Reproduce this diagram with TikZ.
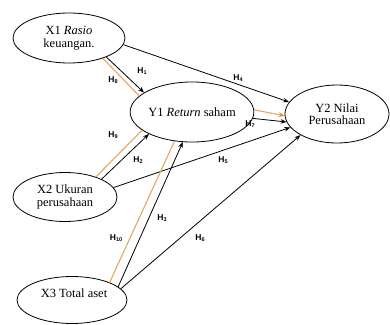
\documentclass[tikz,border=0pt]{standalone}
\usepackage{fontspec}
\setmainfont{Liberation Serif}
\newfontfamily\lblfont{Liberation Sans}
\newfontfamily\txtfont{Liberation Serif}
\usetikzlibrary{shapes.geometric,arrows.meta}
\definecolor{orangeline}{RGB}{228,168,100}
\definecolor{orangetip}{RGB}{238,128,48}
\newcommand\hyp[1]{{\lblfont\bfseries\fontsize{8.5}{8.5}\selectfont H\raisebox{-0.4pt}{\fontsize{5.5}{5.5}\selectfont #1}}}
\begin{document}
\begin{tikzpicture}[x=1pt,y=-1pt,
  ell/.style={ellipse, draw=black, line width=0.8pt, inner sep=0pt, align=center,
    font=\txtfont\fontsize{12.5}{12.5}\selectfont},
  txt/.style={inner sep=0pt, align=center, font=\txtfont\fontsize{12.5}{12.5}\selectfont},
  blk/.style={draw=black, line width=0.8pt, -{Stealth[length=6pt,width=4.5pt]}},
  org/.style={draw=orangeline, line width=1.1pt},
  orgarrow/.style={draw=orangeline, line width=1.1pt, -{Stealth[length=6pt,width=4.5pt,color=orangetip]}},
  lbl/.style={inner sep=0pt}]
\useasboundingbox (0,0) rectangle (390,324);
\node[ell, minimum width=112pt, minimum height=50pt] (x1) at (69,38) {X1 \textit{Rasio}\\keuangan.};
\node[ell, minimum width=111pt, minimum height=60pt] (y1) at (192,112) {Y1 \textit{Return} saham};
\node[ell, minimum width=104pt, minimum height=58pt] (y2) at (337,114) {Y2 Nilai\\Perusahaan};
\node[ell, minimum width=104pt, minimum height=49pt] (x2) at (65,197) {X2 Ukuran\\perusahaan};
\node[ell, minimum width=110pt, minimum height=47pt] (x3) at (72,300) {};
\node[txt] (x3t) at (74,293) {X3 Total aset};
% paths
\draw[org] (x1.-31) -- (y1.163);
\draw[blk] (x1.-27) -- (y1.158);
\draw[blk] (x1.-7) -- (y2.166);
\draw[orgarrow] (y1.2) -- (y2.182);
\draw[blk] (y1.-6) -- (y2.189);
\draw[org] (x2.33) -- (y1.200);
\draw[blk] (x2.26) -- (y1.207);
\draw[blk] (x2.11) -- (y2.196);
\draw[org] (x3.25) -- (y1.239);
\draw[blk] (x3.16) -- (y1.253);
\draw[blk] (x3.13) -- (y2.210);
% labels
\node[lbl] (h1) at (142,71) {\hyp{1}};
\node[lbl] (h8) at (113,80) {\hyp{8}};
\node[lbl] (h4) at (238,78) {\hyp{4}};
\node[lbl] (h7) at (250,124) {\hyp{7}};
\node[lbl] (h9) at (113,135) {\hyp{9}};
\node[lbl] (h2) at (138,160) {\hyp{2}};
\node[lbl] (h5) at (223,160) {\hyp{5}};
\node[lbl] (h3) at (162,218) {\hyp{3}};
\node[lbl] (h10) at (116,238) {\hyp{10}};
\node[lbl] (h6) at (200,238) {\hyp{6}};
\end{tikzpicture}
\end{document}
